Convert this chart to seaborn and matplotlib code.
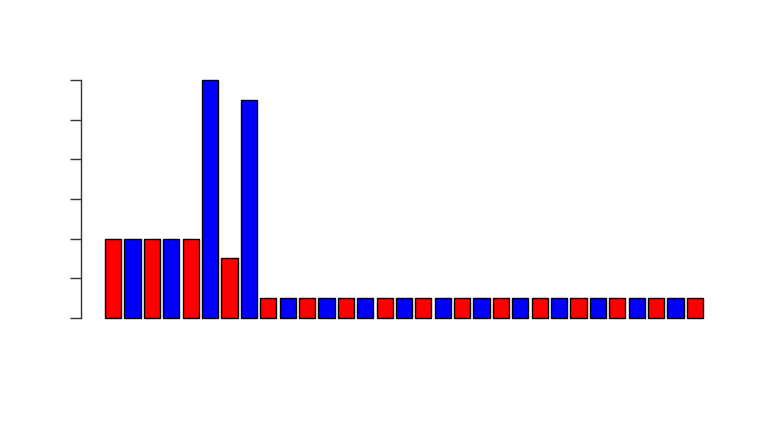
import matplotlib
matplotlib.use("Agg")
import matplotlib.pyplot as plt
import seaborn as sns
import pandas as pd

# bar heights (left axis 0..6, no labels shown)
heights = [2, 2, 2, 2, 2, 6, 1.5, 5.5] + [0.5] * 23
colors = ["red" if i % 2 == 0 else "blue" for i in range(len(heights))]
yticks = [0, 1, 2, 3, 4, 5, 6]

df = pd.DataFrame({"idx": [str(i) for i in range(len(heights))], "h": heights})

sns.set_style("white")
fig = plt.figure(figsize=(7.68, 4.22), dpi=100)
ax = fig.add_axes([0.1055, 0.224, 0.8411, 0.609])

sns.barplot(data=df, x="idx", y="h", hue="idx", palette=colors, legend=False,
            width=1 / 1.2, edgecolor="black", linewidth=1, saturation=1, ax=ax)

ax.set_xlim(-1.655, len(heights) - 1 + 1.655)
ax.set_ylim(-0.24, 6.24)
ax.set_xticks([])
ax.set_yticks(yticks)
ax.set_yticklabels([])
ax.tick_params(axis="y", left=True, length=8, width=1, color="#333333")
ax.set_xlabel("")
ax.set_ylabel("")
for s in ["top", "right", "bottom"]:
    ax.spines[s].set_visible(False)
ax.spines["left"].set_bounds(0, 6)
ax.spines["left"].set_color("#333333")
ax.spines["left"].set_linewidth(1)

fig.savefig("out.png", dpi=100)
